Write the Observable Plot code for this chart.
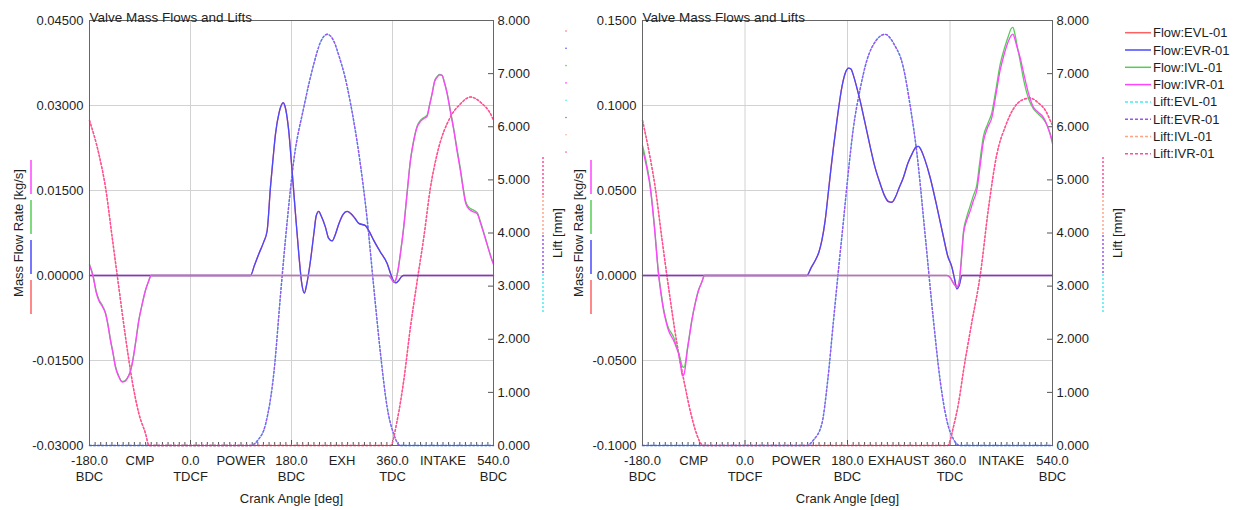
<!DOCTYPE html>
<html><head><meta charset="utf-8">
<script src="https://cdn.jsdelivr.net/npm/d3@7"></script>
<script src="https://cdn.jsdelivr.net/npm/@observablehq/plot@0.6"></script>
<style>
body{margin:0;background:#fff;}
#wrap{position:relative;width:1241px;height:510px;overflow:hidden;font-family:"Liberation Sans",Arial,sans-serif;}
#wrap svg{position:absolute;top:0;}
</style></head>
<body><div id="wrap"></div>
<script>
// ---------- DATA ----------
const seriesNames = ["Flow:EVL-01","Flow:EVR-01","Flow:IVL-01","Flow:IVR-01","Lift:EVL-01","Lift:EVR-01","Lift:IVL-01","Lift:IVR-01"];
const seriesColors = ["#ff6060","#4848ff","#55cc55","#ff44ff","#44eeee","#9a55f0","#ffa585","#ff4c9c"];
const xTickValues = [-180,-90,0,90,180,270,360,450,540];
const xTickLabelsA = ["-180.0\nBDC","CMP","0.0\nTDCF","POWER","180.0\nBDC","EXH","360.0\nTDC","INTAKE","540.0\nBDC"];
const xTickLabelsB = ["-180.0\nBDC","CMP","0.0\nTDCF","POWER","180.0\nBDC","EXHAUST","360.0\nTDC","INTAKE","540.0\nBDC"];
const xGridValues = [0,180,360];
const liftTicks = [0,1,2,3,4,5,6,7,8];
const flowTicksA = [-0.03,-0.015,0,0.015,0.03,0.045];
const flowTicksB = [-0.1,-0.05,0,0.05,0.1,0.15];

// Left chart: [crank angle deg, value]
const exhFlowA = [[-180,0],[100,0],[107,0],[114,0.0018],[121.7,0.0038],[130,0.0058],[136.6,0.0079],[142.5,0.0156],[147,0.0205],[151.5,0.025],[158,0.0288],[162,0.0301],[165,0.0305],[168,0.0300],[172,0.028],[175,0.0256],[181,0.0185],[187,0.011],[193,0.0038],[198,-0.0012],[203,-0.0031],[207,-0.0016],[213.8,0.0026],[220,0.0075],[224,0.0105],[228.6,0.0113],[233,0.0105],[240.6,0.0085],[246,0.0066],[252.5,0.0061],[258,0.0072],[264.3,0.0091],[272,0.0108],[279,0.0113],[286,0.0109],[293,0.0101],[300,0.0092],[311.8,0.0088],[319,0.0077],[326.6,0.0062],[338,0.0042],[350.5,0.0021],[356,0.0005],[362,-0.0010],[366,-0.0013],[371,-0.0009],[376,-0.0002],[380,0],[540,0]];
const intFlowA_R = [[-180,0.0018],[-174,0],[-168,-0.0030],[-163.4,-0.0044],[-157,-0.0055],[-151.5,-0.0067],[-147,-0.0088],[-142.6,-0.0115],[-138,-0.0138],[-133.7,-0.0162],[-128,-0.0178],[-121.7,-0.0188],[-117,-0.0187],[-112.8,-0.0182],[-108,-0.0172],[-103.9,-0.0156],[-98,-0.0120],[-92,-0.0079],[-86,-0.0050],[-80.2,-0.0026],[-75,-0.0011],[-70,0],[353,0],[357,-0.0004],[362,-0.0012],[366,-0.0008],[370,0.0010],[375,0.0045],[380,0.0085],[386,0.0145],[392,0.0203],[398,0.0238],[404,0.0262],[410,0.0272],[416,0.0277],[421.7,0.0281],[426,0.0300],[430.7,0.0321],[435,0.0342],[439.6,0.0350],[444,0.0354],[448.5,0.0353],[452,0.0342],[457.4,0.0321],[463,0.0290],[469.3,0.0256],[475,0.0220],[481,0.0185],[486,0.0152],[490,0.0129],[494,0.0120],[499,0.0115],[505,0.0112],[511,0.0109],[517,0.0092],[522.7,0.0074],[530,0.0050],[537.6,0.0026],[540,0.0020]];
const intFlowA_L = [[-180,0.0020],[-174,0.0001],[-168,-0.0028],[-163.4,-0.0042],[-157,-0.0053],[-151.5,-0.0066],[-147,-0.0087],[-142.6,-0.0113],[-138,-0.0137],[-133.7,-0.0160],[-128,-0.0177],[-121.7,-0.0187],[-117,-0.0186],[-112.8,-0.0181],[-108,-0.0171],[-103.9,-0.0155],[-98,-0.0119],[-92,-0.0078],[-86,-0.0050],[-80.2,-0.0026],[-75,-0.0011],[-70,0],[353,0],[357,-0.0004],[362,-0.0011],[366,-0.0007],[370,0.0011],[375,0.0046],[380,0.0086],[386,0.0146],[392,0.0204],[398,0.0240],[404,0.0264],[410,0.0274],[416,0.0279],[421.7,0.0283],[426,0.0301],[430.7,0.0322],[435,0.0343],[439.6,0.0351],[444,0.0355],[448.5,0.0353],[452,0.0343],[457.4,0.0322],[463,0.0292],[469.3,0.0258],[475,0.0223],[481,0.0188],[486,0.0155],[490,0.0132],[494,0.0123],[499,0.0118],[505,0.0115],[511,0.0111],[517,0.0094],[522.7,0.0076],[530,0.0051],[537.6,0.0027],[540,0.0021]];
const exhLiftA = [[-180,0],[107,0],[120,0.1],[134,0.41],[149,1.41],[160.6,2.86],[172.5,4.24],[184,5.36],[202,6.37],[219.7,7.18],[231.6,7.59],[243.6,7.74],[255,7.62],[265.3,7.31],[275,6.95],[285,6.45],[300,5.5],[315,4.24],[326.6,2.98],[338.6,1.73],[350.5,0.72],[362,0.22],[374,0],[540,0]];
const intLiftA = [[-180,6.12],[-163.4,5.49],[-151.5,4.86],[-139.6,3.92],[-127.8,2.98],[-115.8,2.04],[-104,1.22],[-92,0.6],[-80,0.22],[-74,0],[356.6,0],[368.3,0.47],[380,1.22],[392,2.23],[404,3.1],[415.8,3.92],[427.7,4.86],[439.6,5.49],[463,6.18],[481,6.43],[499,6.56],[517,6.46],[537.6,6.18],[540,6.12]];

// Right chart
const exhFlowB = [[-180,0],[100,0],[108.7,0],[116,0.0045],[123.3,0.0088],[130,0.014],[135,0.0206],[140.8,0.0324],[146.7,0.05],[151,0.063],[155.4,0.0755],[161.4,0.091],[170.2,0.111],[176,0.119],[182,0.122],[186,0.1215],[191,0.117],[196,0.111],[202,0.103],[210,0.091],[220,0.0755],[228,0.064],[237.4,0.054],[245,0.047],[252,0.0435],[258,0.0431],[264,0.046],[270,0.051],[278.3,0.0578],[286,0.066],[294,0.072],[300,0.0755],[304.7,0.076],[309,0.074],[316,0.068],[325,0.0578],[336,0.042],[348.6,0.0225],[356,0.0115],[363.3,0.0049],[368,-0.002],[372,-0.0078],[376,-0.006],[381,0],[540,0]];
const intFlowB_R = [[-180,0.0745],[-173,0.064],[-166.5,0.052],[-159,0.028],[-152,0.001],[-147,-0.012],[-143,-0.0206],[-138,-0.028],[-134.3,-0.0324],[-129,-0.036],[-125.6,-0.038],[-121,-0.042],[-116.8,-0.046],[-113,-0.053],[-110,-0.059],[-107,-0.058],[-104,-0.052],[-102,-0.046],[-98,-0.037],[-93.3,-0.0265],[-87,-0.016],[-81.6,-0.0088],[-76,-0.004],[-71,0],[354.5,0],[360,-0.001],[366,-0.0045],[372,-0.0069],[376,-0.004],[379,0.005],[383.7,0.0245],[389,0.032],[395.5,0.038],[401,0.044],[407,0.05],[412,0.062],[418.8,0.079],[426,0.087],[433.6,0.093],[440,0.105],[448,0.1206],[455,0.13],[462.7,0.138],[467,0.141],[470.4,0.142],[474,0.139],[478,0.134],[483.3,0.128],[490,0.118],[498,0.107],[506.6,0.099],[515,0.096],[524,0.093],[531,0.088],[539,0.079],[540,0.0775]];
const intFlowB_L = [[-180,0.0765],[-173,0.066],[-166.5,0.053],[-159,0.029],[-152,0.002],[-147,-0.011],[-143,-0.0195],[-138,-0.027],[-134.3,-0.031],[-129,-0.034],[-125.6,-0.036],[-121,-0.041],[-116.8,-0.045],[-113,-0.050],[-110,-0.0535],[-107,-0.054],[-104,-0.050],[-102,-0.045],[-98,-0.036],[-93.3,-0.026],[-87,-0.0155],[-81.6,-0.0085],[-76,-0.004],[-71,0],[354.5,0],[360,-0.001],[366,-0.0045],[372,-0.0069],[376,-0.004],[379,0.006],[383.7,0.026],[389,0.034],[395.5,0.041],[401,0.047],[407,0.053],[412,0.066],[418.8,0.082],[426,0.089],[433.6,0.096],[440,0.108],[448,0.124],[455,0.133],[462.7,0.141],[467,0.145],[470.4,0.146],[474,0.142],[478,0.135],[483.3,0.126],[490,0.114],[498,0.104],[506.6,0.098],[515,0.095],[524,0.092],[531,0.088],[539,0.080],[540,0.0785]];
const exhLiftB = [[-180,0],[108.7,0],[120,0.1],[135,0.41],[145,1.2],[155.4,2.35],[165,3.4],[173,4.24],[181,5.1],[190.5,5.99],[202,6.7],[214,7.25],[230,7.62],[246,7.74],[262,7.55],[278,7.12],[290,6.4],[302,5.49],[316,4.0],[331,2.35],[343,1.2],[354.5,0.47],[366,0.12],[378,0],[540,0]];
const intLiftB = [[-180,6.12],[-168,5.5],[-157.7,4.86],[-146,3.9],[-134.3,2.98],[-120,1.95],[-105,1.1],[-95,0.6],[-87.5,0.3],[-73,0],[356,0],[366,0.35],[375,0.8],[383.7,1.41],[398,2.3],[413,3.2],[428,4.5],[442.4,5.49],[457,6.0],[471.5,6.34],[486,6.5],[500.8,6.54],[515,6.45],[528,6.3],[539,6.05],[540,6.03]];

// ---------- DRAW ----------
const FONT = "'Liberation Sans', Arial, sans-serif";
const wrap = document.getElementById("wrap");

function panel(cfg) {
  const [yMin, yMax] = cfg.yDomain;
  const toY = L => yMin + L / 8 * (yMax - yMin);
  const fromY = v => ((v - yMin) / (yMax - yMin) * 8).toFixed(3);
  const liftPos = liftTicks.map(toY);
  const minor = d3.range(-170, 540, 10).filter(v => !xGridValues.includes(v));
  const flowSets = [cfg.exhFlow, cfg.exhFlow, cfg.intFlowL, cfg.intFlowR];
  const liftSets = [cfg.exhLift, cfg.exhLift, cfg.intLift, cfg.intLift];
  const marks = [
    Plot.gridY(cfg.flowTicks.slice(1, -1), {stroke: "#d2d2d2", strokeOpacity: 1}),
    Plot.gridX(xGridValues, {stroke: "#d2d2d2", strokeOpacity: 1}),
    Plot.axisY(cfg.flowTicks, {anchor: "left", tickSize: 0, tickPadding: 6, tickFormat: d => d.toFixed(cfg.digits), label: null}),
    Plot.axisY(liftPos, {anchor: "right", tickSize: 0, tickPadding: 4, tickFormat: fromY, label: null}),
    Plot.axisY(liftPos, {anchor: "right", tickSize: 6, dx: -6, tickFormat: () => "", label: null, stroke: "#555"}),
    Plot.axisX(xTickValues, {anchor: "bottom", tickSize: 0, tickPadding: 7, lineHeight: 1.3, tickFormat: (d, i) => cfg.xLabels[xTickValues.indexOf(d)], label: null}),
    Plot.axisX(minor, {anchor: "bottom", tickSize: 3, dy: -3, tickFormat: () => "", label: null, stroke: "#555"}),
    Plot.axisX(xGridValues, {anchor: "bottom", tickSize: 5, dy: -5, tickFormat: () => "", label: null, stroke: "#555"})
  ];
  liftSets.forEach((s, i) => marks.push(Plot.line(s, {x: d => d[0], y: d => toY(d[1]), stroke: seriesColors[4 + i], strokeWidth: 1.4, strokeDasharray: "2,2", curve: "monotone-x"})));
  flowSets.forEach((s, i) => marks.push(Plot.line(s, {x: d => d[0], y: d => d[1], stroke: seriesColors[i], strokeWidth: 1.3, curve: "monotone-x"})));
  marks.push(
    Plot.frame({stroke: "#666"}),
    Plot.text(["Valve Mass Flows and Lifts"], {text: d => d, frameAnchor: "top-left", textAnchor: "start", lineAnchor: "bottom", dy: 1, fontSize: 13.5}),
    Plot.text(["Mass Flow Rate [kg/s]"], {text: d => d, frameAnchor: "left", rotate: -90, dx: cfg.flowTitleDx, textAnchor: "middle", lineAnchor: "middle"}),
    Plot.text(["Lift [mm]"], {text: d => d, frameAnchor: "right", rotate: -90, dx: cfg.liftTitleDx, textAnchor: "middle", lineAnchor: "middle"}),
    Plot.text(["Crank Angle [deg]"], {text: d => d, frameAnchor: "bottom", dy: 53, textAnchor: "middle", lineAnchor: "middle"})
  );
  const svg = Plot.plot({
    width: cfg.width, height: 510,
    marginTop: 20, marginBottom: 65, marginLeft: cfg.ml, marginRight: cfg.mr,
    x: {domain: [-180, 540]},
    y: {domain: cfg.yDomain},
    style: {fontFamily: FONT, fontSize: "13px", color: "#1e1e1e", background: "transparent", overflow: "visible"},
    marks
  });
  svg.style.left = cfg.left + "px";
  // axis legend swatches along the axis titles
  const g = d3.select(svg).append("g");
  const flowOrder = [3, 2, 1, 0];
  flowOrder.forEach((si, k) => {
    g.append("line").attr("x1", cfg.ml - cfg.swFlowDx).attr("x2", cfg.ml - cfg.swFlowDx)
      .attr("y1", 160 + k * 40).attr("y2", 194 + k * 40)
      .attr("stroke", seriesColors[si]).attr("stroke-width", 1.5);
  });
  const liftOrder = [7, 6, 5, 4];
  const rx = cfg.width - cfg.mr + cfg.swLiftDx;
  liftOrder.forEach((si, k) => {
    g.append("line").attr("x1", rx).attr("x2", rx)
      .attr("y1", 157 + k * 39).attr("y2", 195 + k * 39)
      .attr("stroke", seriesColors[si]).attr("stroke-width", 1.5).attr("stroke-dasharray", "2,2");
  });
  wrap.appendChild(svg);
  return svg;
}

panel({left: 0, width: 560, ml: 89, mr: 67, yDomain: [-0.03, 0.045], flowTicks: flowTicksA, digits: 5,
  xLabels: xTickLabelsA, exhFlow: exhFlowA, intFlowL: intFlowA_L, intFlowR: intFlowA_R, exhLift: exhLiftA, intLift: intLiftA,
  flowTitleDx: -71, liftTitleDx: 64, swFlowDx: 58, swLiftDx: 50});
panel({left: 555, width: 580, ml: 87, mr: 83, yDomain: [-0.1, 0.15], flowTicks: flowTicksB, digits: 4,
  xLabels: xTickLabelsB, exhFlow: exhFlowB, intFlowL: intFlowB_L, intFlowR: intFlowB_R, exhLift: exhLiftB, intLift: intLiftB,
  flowTitleDx: -64, liftTitleDx: 65, swFlowDx: 51, swLiftDx: 51});

// legend on the right
const leg = d3.select(wrap).append("svg").attr("width", 130).attr("height", 170)
  .style("left", "1112px").style("top", "0px").style("position", "absolute");
seriesNames.forEach((n, i) => {
  const y = 32.7 + i * 17.3;
  leg.append("line").attr("x1", 13).attr("x2", 39).attr("y1", y).attr("y2", y)
    .attr("stroke", seriesColors[i]).attr("stroke-width", 1.5).attr("stroke-dasharray", i >= 4 ? "3,2" : null);
  leg.append("text").attr("x", 41).attr("y", y).attr("dy", "0.35em").attr("font-family", FONT).attr("font-size", 13)
    .attr("fill", "#1e1e1e").text(n);
});
// faint marker dots seen beside the right chart
const dots = d3.select(wrap).append("svg").attr("width", 10).attr("height", 170)
  .style("left", "561px").style("top", "0px").style("position", "absolute");
seriesNames.forEach((n, i) => {
  dots.append("circle").attr("cx", 5).attr("cy", 31 + i * 17.3).attr("r", 0.8).attr("fill", seriesColors[i]);
});
</script>
</body></html>
